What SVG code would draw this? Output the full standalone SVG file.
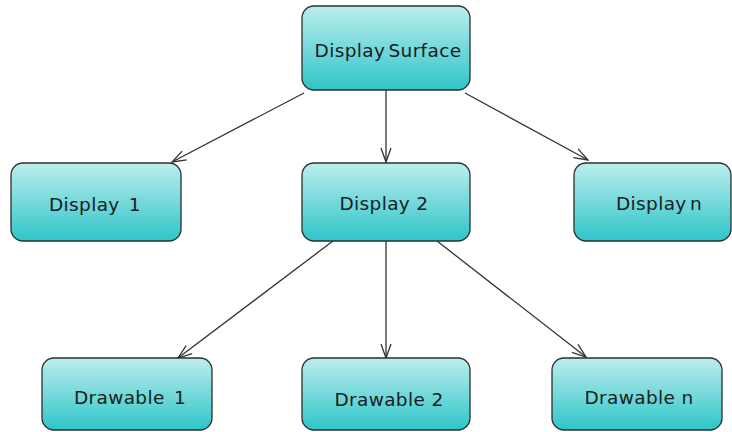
<svg xmlns="http://www.w3.org/2000/svg" width="732" height="432" viewBox="0 0 732 432">
  <style>
    .box { fill: url(#teal); stroke: #2b2f2f; stroke-width: 1.3; }
    .lbl { font-family: "DejaVu Sans", "Liberation Sans", sans-serif; font-size: 18.5px; letter-spacing: 0.35px; fill: #172020; text-anchor: middle; dominant-baseline: central; }
    .wide { word-spacing: 3px; }
    .tight { word-spacing: -3px; }
    .edge { stroke: #333; stroke-width: 1.3; fill: none; marker-end: url(#open); }
  </style>
  <defs>
    <linearGradient id="teal" x1="0" y1="0" x2="0" y2="1">
      <stop offset="0" stop-color="#bdeded"/>
      <stop offset="1" stop-color="#2ec5c9"/>
    </linearGradient>
    <marker id="open" viewBox="0 0 16 12" refX="15" refY="6" markerWidth="16" markerHeight="12" markerUnits="userSpaceOnUse" orient="auto">
      <path d="M1,1 L15,6 L1,11" fill="none" stroke="#333" stroke-width="1.3"/>
    </marker>
  </defs>

  <g id="connectors">
    <line class="edge" x1="304" y1="93" x2="172" y2="162"/>
    <line class="edge" x1="386" y1="90" x2="386" y2="162"/>
    <line class="edge" x1="465" y1="93" x2="588" y2="160"/>
    <line class="edge" x1="333" y1="241" x2="178" y2="358"/>
    <line class="edge" x1="386" y1="241" x2="386" y2="358"/>
    <line class="edge" x1="437" y1="241" x2="586" y2="357"/>
  </g>

  <g id="display-surface">
    <rect class="box" x="302" y="6" width="168" height="84" rx="12"/>
    <text class="lbl tight" x="388" y="50">Display Surface</text>
  </g>
  <g id="display-1">
    <rect class="box" x="11" y="163" width="170" height="78" rx="12"/>
    <text class="lbl wide" x="95" y="204">Display 1</text>
  </g>
  <g id="display-2">
    <rect class="box" x="302" y="163" width="168" height="78" rx="12"/>
    <text class="lbl" x="384" y="203">Display 2</text>
  </g>
  <g id="display-n">
    <rect class="box" x="574" y="163" width="157" height="78" rx="12"/>
    <text class="lbl tight" x="659" y="203">Display n</text>
  </g>
  <g id="drawable-1">
    <rect class="box" x="42" y="358" width="170" height="72" rx="12"/>
    <text class="lbl wide" x="130" y="397">Drawable 1</text>
  </g>
  <g id="drawable-2">
    <rect class="box" x="302" y="358" width="168" height="72" rx="12"/>
    <text class="lbl" x="389" y="399">Drawable 2</text>
  </g>
  <g id="drawable-n">
    <rect class="box" x="552" y="358" width="170" height="72" rx="12"/>
    <text class="lbl" x="639" y="397">Drawable n</text>
  </g>
</svg>
